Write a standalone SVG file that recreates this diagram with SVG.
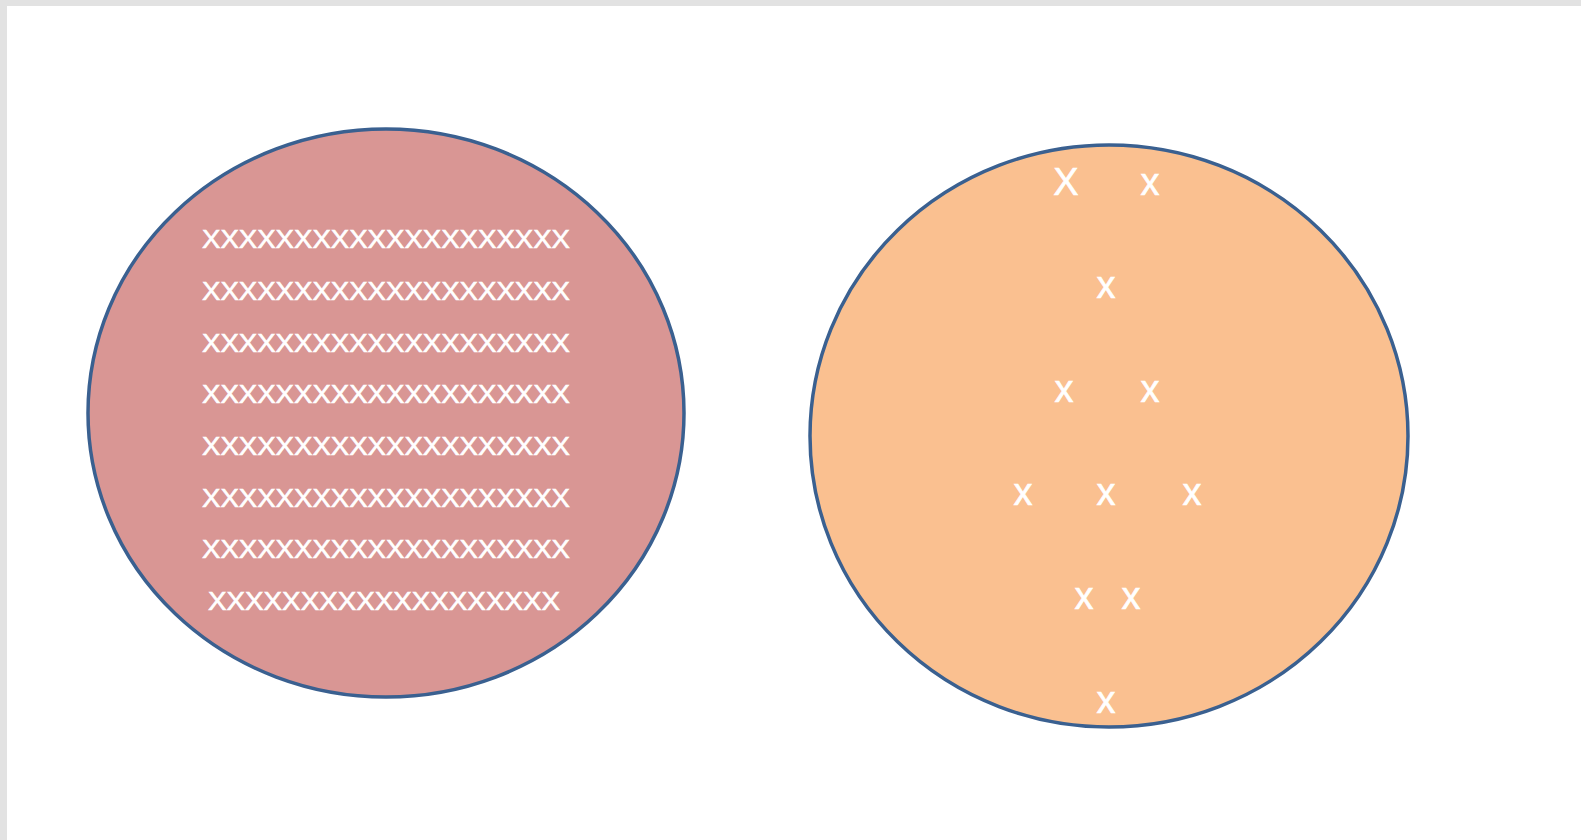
<svg xmlns="http://www.w3.org/2000/svg" width="1581" height="840" viewBox="0 0 1581 840">
  <style>
    .circle { stroke: #3A6090; stroke-width: 3.5; }
    .row { font-family: "Liberation Sans", Arial, sans-serif; font-size: 25px; fill: #FFFFFF; stroke: #FFFFFF; stroke-width: 0.6; text-anchor: middle; }
    .mark { font-family: "Liberation Sans", Arial, sans-serif; font-size: 38px; fill: #FFFFFF; stroke: #FFFFFF; stroke-width: 0.6; text-anchor: middle; }
  </style>
  <rect x="0" y="0" width="1581" height="840" fill="#FFFFFF"/>
  <rect x="0" y="0" width="1581" height="6" fill="#E2E2E2"/>
  <rect x="0" y="0" width="7" height="840" fill="#E2E2E2"/>

  <g id="dense-circle">
    <ellipse class="circle" cx="386" cy="413" rx="298" ry="284" fill="#D99694"/>
    <text class="row" x="386" y="248" textLength="368" lengthAdjust="spacingAndGlyphs">XXXXXXXXXXXXXXXXXXXX</text>
    <text class="row" x="386" y="300" textLength="368" lengthAdjust="spacingAndGlyphs">XXXXXXXXXXXXXXXXXXXX</text>
    <text class="row" x="386" y="352" textLength="368" lengthAdjust="spacingAndGlyphs">XXXXXXXXXXXXXXXXXXXX</text>
    <text class="row" x="386" y="403" textLength="368" lengthAdjust="spacingAndGlyphs">XXXXXXXXXXXXXXXXXXXX</text>
    <text class="row" x="386" y="455" textLength="368" lengthAdjust="spacingAndGlyphs">XXXXXXXXXXXXXXXXXXXX</text>
    <text class="row" x="386" y="507" textLength="368" lengthAdjust="spacingAndGlyphs">XXXXXXXXXXXXXXXXXXXX</text>
    <text class="row" x="386" y="558" textLength="368" lengthAdjust="spacingAndGlyphs">XXXXXXXXXXXXXXXXXXXX</text>
    <text class="row" x="384" y="610" textLength="352" lengthAdjust="spacingAndGlyphs">XXXXXXXXXXXXXXXXXXX</text>
  </g>

  <g id="sparse-circle">
    <ellipse class="circle" cx="1109" cy="436" rx="299" ry="291" fill="#FAC090"/>
    <text class="mark" x="1066" y="195">X</text>
    <text class="mark" x="1150" y="195">x</text>
    <text class="mark" x="1106" y="298">x</text>
    <text class="mark" x="1064" y="402">x</text>
    <text class="mark" x="1150" y="402">x</text>
    <text class="mark" x="1023" y="505">x</text>
    <text class="mark" x="1106" y="505">x</text>
    <text class="mark" x="1192" y="505">x</text>
    <text class="mark" x="1084" y="609">x</text>
    <text class="mark" x="1131" y="609">x</text>
    <text class="mark" x="1106" y="713">x</text>
  </g>
</svg>
